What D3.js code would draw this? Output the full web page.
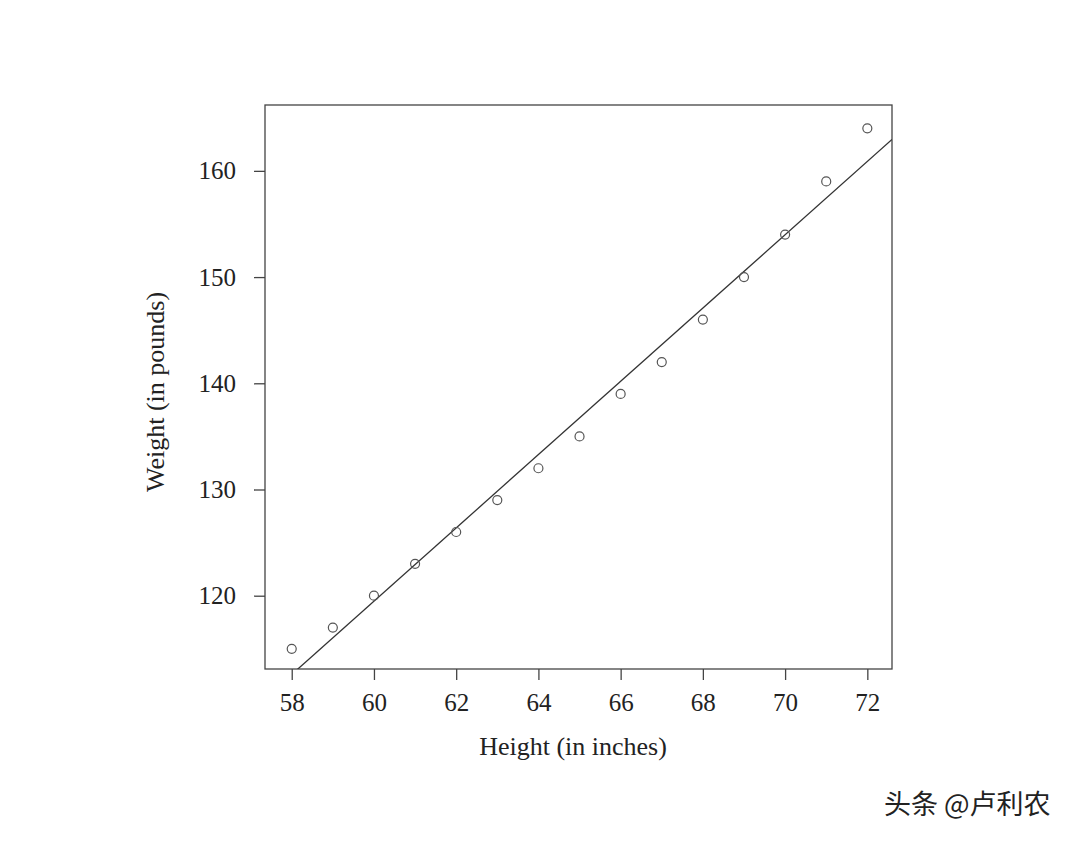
<!DOCTYPE html>
<html><head><meta charset="utf-8">
<script src="https://cdn.jsdelivr.net/npm/d3@7"></script>
<style>body{margin:0;background:#fff}</style>
</head><body>
<script>
const heights = [58,59,60,61,62,63,64,65,66,67,68,69,70,71,72];
const weights = [115,117,120,123,126,129,132,135,139,142,146,150,154,159,164];
const xTicks = [58,60,62,64,66,68,70,72];
const yTicks = [120,130,140,150,160];
const fitIntercept = -87.51667, fitSlope = 3.45;

const W=1080,H=843;
const L=265,R=892,T=105,B=669;
const svg=d3.select("body").append("svg").attr("width",W).attr("height",H);
const x=d3.scaleLinear().domain([57.35,72.6]).range([L,R]);
const y=d3.scaleLinear().domain([113.1,166.2]).range([B,T]);
const font="'Liberation Serif','Times New Roman',serif";

svg.append("defs").append("clipPath").attr("id","c").append("rect")
  .attr("x",L).attr("y",T).attr("width",R-L).attr("height",B-T);

const xa=svg.append("g").attr("transform",`translate(0,${B})`)
  .call(d3.axisBottom(x).tickValues(xTicks).tickSize(11).tickPadding(13).tickSizeOuter(0));
const ya=svg.append("g").attr("transform",`translate(${L},0)`)
  .call(d3.axisLeft(y).tickValues(yTicks).tickSize(11).tickPadding(18).tickSizeOuter(0));
[xa,ya].forEach(a=>{
  a.select(".domain").remove();
  a.selectAll("line").attr("stroke","#444").attr("stroke-width",1.3);
  a.selectAll("text").attr("font-family",font).attr("font-size",25).attr("fill","#222");
});

svg.append("rect").attr("x",L).attr("y",T).attr("width",R-L).attr("height",B-T)
  .attr("fill","none").attr("stroke","#444").attr("stroke-width",1.3);

const x0=57.35,x1=72.6;
svg.append("line").attr("clip-path","url(#c)")
  .attr("x1",x(x0)).attr("y1",y(fitIntercept+fitSlope*x0))
  .attr("x2",x(x1)).attr("y2",y(fitIntercept+fitSlope*x1))
  .attr("stroke","#333").attr("stroke-width",1.3);

svg.append("g").selectAll("circle").data(heights).join("circle")
  .attr("cx",d=>x(d)).attr("cy",(d,i)=>y(weights[i])).attr("r",4.5)
  .attr("fill","none").attr("stroke","#555").attr("stroke-width",1.2);

svg.append("text").attr("x",573).attr("y",755).attr("text-anchor","middle")
  .attr("font-family",font).attr("font-size",26).attr("fill","#222").text("Height (in inches)");
svg.append("text").attr("transform",`translate(164,392) rotate(-90)`).attr("text-anchor","middle")
  .attr("font-family",font).attr("font-size",26).attr("fill","#222").text("Weight (in pounds)");

svg.append("text").attr("x",884).attr("y",814).attr("font-family","'Noto Sans CJK SC',sans-serif")
  .attr("font-size",27).attr("fill","#222").text("头条 @卢利农");
</script>
</body></html>
